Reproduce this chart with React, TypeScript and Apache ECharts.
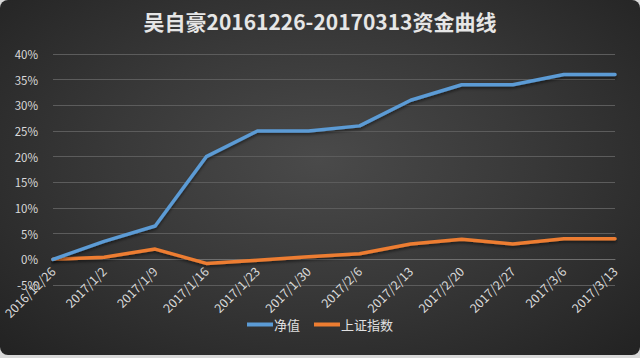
import React, { useEffect, useRef } from "react";
import * as echarts from "echarts";

const categories = [
  "2016/12/26", "2017/1/2", "2017/1/9", "2017/1/16", "2017/1/23", "2017/1/30",
  "2017/2/6", "2017/2/13", "2017/2/20", "2017/2/27", "2017/3/6", "2017/3/13",
];
const netValue = [0, 3.5, 6.5, 20, 25, 25, 26, 31, 34, 34, 36, 36];
const shIndex = [0, 0.4, 2, -0.8, -0.2, 0.5, 1.1, 3, 3.9, 3, 4, 4];
const title = "吴自豪20161226-20170313资金曲线";
const seriesNames = ["净值", "上证指数"];

export default function App() {
  const ref = useRef<HTMLDivElement>(null);
  useEffect(() => {
    if (!ref.current) return;
    const chart = echarts.init(ref.current, undefined, { renderer: "svg" });
    const font = "'Noto Sans CJK SC', 'Noto Sans', sans-serif";
    chart.setOption({
      animation: false,
      backgroundColor: "transparent",
      title: {
        text: title,
        left: "center",
        top: 5,
        textStyle: { color: "#e6e6e6", fontSize: 21, fontWeight: "bold", fontFamily: font },
      },
      grid: { left: 53, right: 25, top: 54, bottom: 73 },
      legend: {
        bottom: 22,
        left: "center",
        itemWidth: 26,
        itemHeight: 4,
        itemGap: 14,
        icon: "rect",
        textStyle: { color: "#e0e0e0", fontSize: 13, fontFamily: font, padding: [0, 0, 0, -4] },
        data: seriesNames,
      },
      xAxis: {
        type: "category",
        data: categories,
        boundaryGap: false,
        axisLine: { onZero: true, lineStyle: { color: "#6e6e6e", width: 1 } },
        axisTick: { show: false },
        axisLabel: {
          rotate: 45,
          color: "#d9d9d9",
          fontSize: 12.5,
          fontFamily: font,
          margin: -16,
          interval: 0,
        },
      },
      yAxis: {
        type: "value",
        min: -5,
        max: 40,
        interval: 5,
        axisLine: { show: false },
        axisTick: { show: false },
        axisLabel: {
          color: "#d9d9d9",
          fontSize: 11.5,
          fontFamily: font,
          margin: 15,
          formatter: (v: number) => `${v}%`,
        },
        splitLine: { lineStyle: { color: "#5c5c5c", width: 1 } },
      },
      series: [
        {
          name: seriesNames[0],
          type: "line",
          data: netValue,
          symbol: "none",
          smooth: false,
          lineStyle: { color: "#5b9bd5", width: 3.5, cap: "round", join: "round", shadowColor: "rgba(0,0,0,0.5)", shadowBlur: 3, shadowOffsetY: 2 },
          itemStyle: { color: "#5b9bd5" },
          z: 3,
        },
        {
          name: seriesNames[1],
          type: "line",
          data: shIndex,
          symbol: "none",
          smooth: false,
          lineStyle: { color: "#ed7d31", width: 3.5, cap: "round", join: "round", shadowColor: "rgba(0,0,0,0.5)", shadowBlur: 3, shadowOffsetY: 2 },
          itemStyle: { color: "#ed7d31" },
          z: 2,
        },
      ],
    });
    return () => chart.dispose();
  }, []);
  return (
    <div
      style={{
        position: "fixed",
        left: 0,
        top: 0,
        width: 640,
        height: 358,
        background: "#d8d8d8",
      }}
    >
      <div
        style={{
          position: "absolute",
          left: 0,
          top: 0,
          width: 640,
          height: 355,
          borderRadius: 8,
          overflow: "hidden",
          background: "radial-gradient(ellipse at 50% 45%, #4a4a4a 0%, #393939 45%, #222222 100%)",
        }}
      >
        <div ref={ref} style={{ width: 640, height: 358 }} />
      </div>
    </div>
  );
}
